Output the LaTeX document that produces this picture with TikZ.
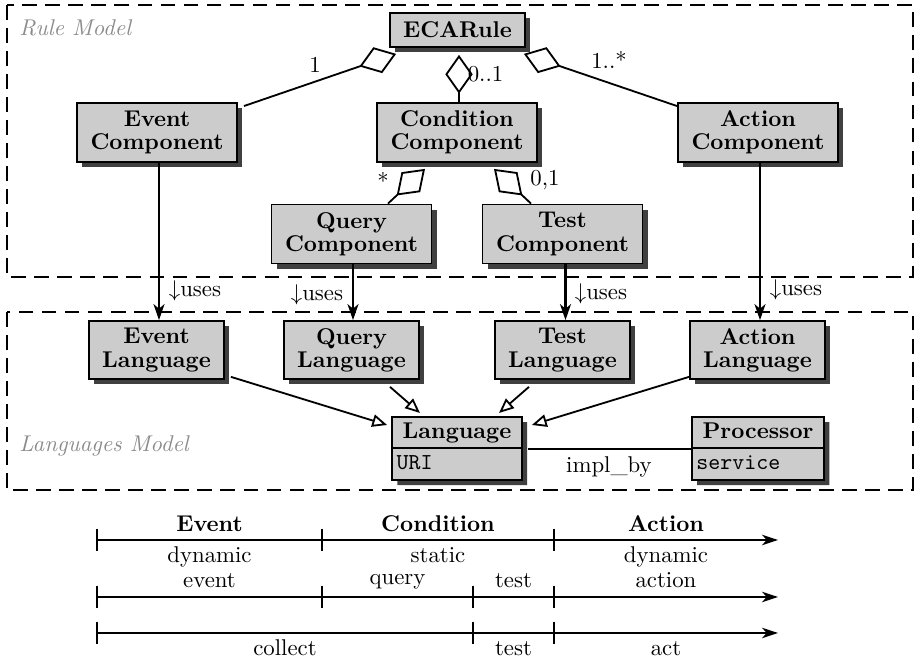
\documentclass[tikz,border=0pt]{standalone}
\usetikzlibrary{arrows.meta,shadows,shapes.multipart,calc}
\begin{document}
\begin{tikzpicture}[x=0.4386pt,y=-0.4386pt,
  shadowed/.style={drop shadow={shadow xshift=2.3pt,shadow yshift=-2.3pt,fill=black!75,opacity=1}},
  cls/.style={draw, thick, fill=black!20, shadowed, inner sep=0pt, align=center,
    font=\fontsize{10}{10.2}\selectfont\bfseries},
  comp/.style={cls, minimum width=70.2pt, minimum height=25.9pt},
  lng/.style={cls, minimum width=59.2pt, minimum height=25.4pt},
  splitcls/.style={draw, thick, fill=black!20, shadowed, rectangle split, rectangle split parts=2,
    text width=53pt, inner xsep=2pt, inner ysep=0.5pt, anchor=north, align=left},
  agg/.style={thick, -{Diamond[open,length=17pt,width=12pt]}},
  gen/.style={thick, -{Triangle[open,length=6.5pt,width=5.5pt]}},
  uses/.style={line width=1pt, -{Stealth[length=7pt,width=4.8pt,inset=2pt]}},
  region/.style={thick, dash pattern=on 6.5pt off 3.6pt},
  regionlabel/.style={font=\itshape, text=black!45, anchor=base west, inner sep=0pt},
  mult/.style={inner sep=0pt},
  tline/.style={semithick, -{Stealth[length=7pt,width=4.6pt,inset=2pt]}},
  tick/.style={very thick},
  phase/.style={anchor=base, inner sep=0pt},
]
\useasboundingbox (0,0) rectangle (916,663);

% regions
\draw[region] (7,5) rectangle (913,277);
\draw[region] (7,312) rectangle (913,490);
\node[regionlabel] (rml) at (19,36) {Rule Model};
\node[regionlabel] (lml) at (19,452) {Languages Model};

% rule model
\node[cls, minimum width=59.2pt, minimum height=14.9pt] (eca) at (457.5,30) {ECARule};
\node[comp] (ec) at (157,132.5) {Event\\Component};
\node[comp] (cc) at (457,132.5) {Condition\\Component};
\node[comp] (ac) at (758,132.5) {Action\\Component};
\node[comp] (qc) at (351.5,234) {Query\\Component};
\node[comp] (tc) at (562.5,234) {Test\\Component};

% languages model
\node[lng] (el) at (156.5,350) {Event\\Language};
\node[lng] (ql) at (351.5,350) {Query\\Language};
\node[lng] (tl) at (562.5,350) {Test\\Language};
\node[lng] (al) at (757.5,350) {Action\\Language};
\node[splitcls] (lang) at (457,416)
  {\makebox[53pt]{\textbf{Language}\strut}\nodepart{two}\texttt{URI}\strut};
\node[splitcls, text width=54pt] (proc) at (758,416)
  {\makebox[54pt]{\textbf{Processor}\strut}\nodepart{two}\texttt{service}\strut};

% aggregations
\draw[agg] ($(ec.north east)+(6,4)$) -- ($(eca.south west)+(7,6)$);
\draw[agg] ($(cc.north)+(2,0)$) -- ($(eca.south)+(1.5,7)$);
\draw[agg] ($(ac.north west)+(0,4)$) -- ($(eca.south east)+(-2,6)$);
\draw[agg] ($(qc.north)+(36.5,0)$) -- ($(cc.south)+(-32,6)$);
\draw[agg] ($(tc.north)+(-31.5,0)$) -- ($(cc.south)+(37,6)$);
\node[mult] (m1) at (315,65) {1};
\node[mult] (m2) at (485.5,74) {0..1};
\node[mult] (m3) at (609,60) {1..*};
\node[mult] (m4) at (383,181) {*};
\node[mult] (m5) at (545,180) {0,1};

% uses
\draw[uses] ($(ec.south)+(2,0)$) -- ($(el.north)+(2.5,0)$);
\draw[uses] ($(qc.south)+(1.5,0)$) -- ($(ql.north)+(1.5,0)$);
\draw[uses] ($(tc.south)+(3,0)$) -- ($(tl.north)+(3,0)$);
\draw[uses] ($(ac.south)+(2,0)$) -- ($(al.north)+(2.5,0)$);
\node[mult] (u1) at (195,291) {$\downarrow$uses};
\node[mult] (u2) at (317,295) {$\downarrow$uses};
\node[mult] (u3) at (601,294) {$\downarrow$uses};
\node[mult] (u4) at (796,290) {$\downarrow$uses};

% generalisations
\draw[gen] ($(el.south east)+(6,-3)$) -- ($(lang.north west)+(-4,9)$);
\draw[gen] ($(ql.south)+(38.5,7)$) -- ($(lang.north)+(-37,-3)$);
\draw[gen] ($(tl.south)+(-33.5,7)$) -- ($(lang.north)+(42,-3)$);
\draw[gen] ($(al.south west)+(0,-3)$) -- ($(lang.north east)+(9,9)$);

% impl_by
\draw[thick] ($(lang.one split east)+(5,1)$) -- ($(proc.one split west)+(0,1)$);
\node[mult] (impl) at (609,467) {impl\_by};

% timelines
\coordinate (a0) at (97,540);
\coordinate (a1) at (322,540);
\coordinate (a2) at (554,540);
\coordinate (a3) at (778,540);
\coordinate (b0) at (97,597);
\coordinate (b1) at (322,597);
\coordinate (b2) at (473,597);
\coordinate (b3) at (554,597);
\coordinate (b4) at (778,597);
\coordinate (c0) at (97,633);
\coordinate (c1) at (473,633);
\coordinate (c2) at (554,633);
\coordinate (c3) at (778,633);
\draw[tline] (a0) -- (a3);
\draw[tline] (b0) -- (b4);
\draw[tline] (c0) -- (c3);
\foreach \p in {a0,a1,a2,b0,b1,b2,b3,c0,c1,c2}
  \draw[tick] ([yshift=5pt]\p) -- ([yshift=-5pt]\p);

\node[phase, font=\bfseries] (pe) at (209.5,532) {Event};
\node[phase, font=\bfseries] (pc) at (438,532) {Condition};
\node[phase, font=\bfseries] (pa) at (666,532) {Action};
\node[phase] (d1) at (209.5,563) {dynamic};
\node[phase] (d2) at (209.5,588) {event};
\node[phase] (s1) at (438,563) {static};
\node[phase] (s2) at (397.5,585) {query};
\node[phase] (t1) at (513.5,588) {test};
\node[phase] (d3) at (666,563) {dynamic};
\node[phase] (d4) at (666,588) {action};
\node[phase] (k1) at (285,656) {collect};
\node[phase] (k2) at (513.5,656) {test};
\node[phase] (k3) at (666,656) {act};
\end{tikzpicture}
\end{document}
